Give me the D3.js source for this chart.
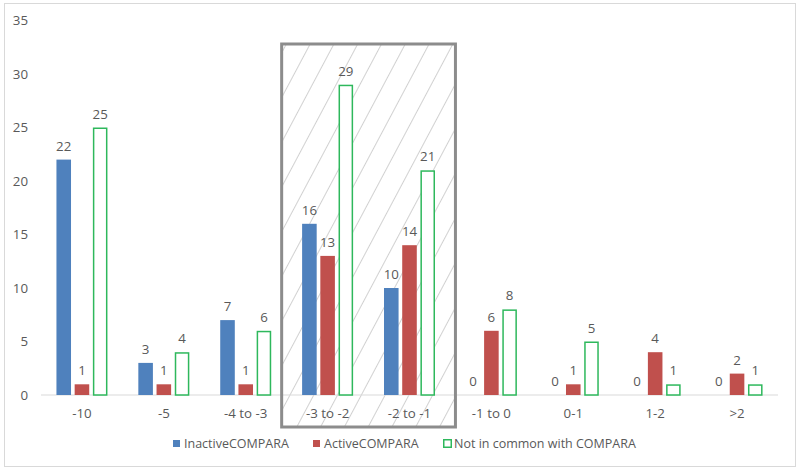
<!DOCTYPE html>
<html><head><meta charset="utf-8">
<script src="https://cdn.jsdelivr.net/npm/d3@7"></script>
<style>body{margin:0;background:#fff}svg{display:block;font-family:"Open Sans",Lato,sans-serif}</style>
</head><body><svg id="c" width="800" height="471"></svg>
<script>
const categories = ["-10","-5","-4 to -3","-3 to -2","-2 to -1","-1 to 0","0-1","1-2",">2"];
const inactive = [22,3,7,16,10,0,0,0,0];
const active = [1,1,1,13,14,6,1,4,2];
const notCommon = [25,4,6,29,21,8,5,1,1];
const seriesNames = ["InactiveCOMPARA","ActiveCOMPARA","Not in common with COMPARA"];
const yTicks = [0,5,10,15,20,25,30,35];
const highlighted = ["-3 to -2","-2 to -1"];

const svg = d3.select("#c");
const txt="#595959";
const FS=13.3;
svg.append("rect").attr("x",4.5).attr("y",3.5).attr("width",791).attr("height",463).attr("fill","#fff").attr("stroke","#d9d9d9");

const x = d3.scaleBand().domain(categories).range([41,778]);
const y = d3.scaleLinear().domain([0,35]).range([395,20.5]);
const sub = d3.scaleBand().domain([0,1,2]).range([0,51]).paddingInner(0.2);

const defs = svg.append("defs");
const pat = defs.append("pattern").attr("id","hatch").attr("patternUnits","userSpaceOnUse")
  .attr("width",21).attr("height",21).attr("patternTransform","rotate(28)");
pat.append("line").attr("x1",0).attr("y1",0).attr("x2",0).attr("y2",21).attr("stroke","#9a9a9a").attr("stroke-width",0.9);
const bx0 = x(highlighted[0]) - 5, bx1 = x(highlighted[1]) + x.bandwidth() + 5;
svg.append("rect").attr("x",bx0).attr("y",44).attr("width",bx1-bx0).attr("height",383)
  .attr("fill","url(#hatch)");

svg.append("line").attr("x1",41).attr("x2",778).attr("y1",y(0)).attr("y2",y(0)).attr("stroke","#d9d9d9");

svg.append("g").selectAll("text").data(yTicks).join("text")
  .attr("x",28).attr("y",d=>y(d)).attr("dy","0.35em").attr("text-anchor","end")
  .attr("font-size",FS).attr("fill",txt).text(d=>d);

svg.append("g").selectAll("text").data(categories).join("text")
  .attr("x",d=>x(d)+x.bandwidth()/2).attr("y",413).attr("dy","0.35em").attr("text-anchor","middle")
  .attr("font-size",FS).attr("fill",txt).text(d=>d);

const series = [inactive,active,notCommon];
const fills = ["#4f81bd","#c0504d","#fff"];
const strokes = ["#4f81bd","#c0504d","#2eb85c"];
series.forEach((vals,si)=>{
  const g = svg.append("g");
  const off = (x.bandwidth()-51)/2;
  g.selectAll("rect").data(categories).join("rect")
    .attr("x",(d)=>x(d)+off+sub(si)+(si==2?0.75:0))
    .attr("y",(d,i)=>y(vals[i])+(si==2?0.75:0))
    .attr("width",sub.bandwidth()-(si==2?1.5:0))
    .attr("height",(d,i)=>Math.max(0,y(0)-y(vals[i])-(si==2?0.75:0)))
    .attr("fill",fills[si]).attr("stroke",si==2?strokes[si]:"none").attr("stroke-width",1.5);
  g.selectAll("text").data(categories).join("text")
    .attr("x",d=>x(d)+off+sub(si)+sub.bandwidth()/2)
    .attr("y",(d,i)=>y(vals[i])-9)
    .attr("text-anchor","middle").attr("font-size",FS).attr("fill",txt)
    .text((d,i)=>vals[i]);
});

svg.append("rect").attr("x",bx0).attr("y",44).attr("width",bx1-bx0).attr("height",383)
  .attr("fill","none").attr("stroke","#8c8c8c").attr("stroke-width",3);

const leg = [{x:173,t:seriesNames[0]},{x:313,t:seriesNames[1]},{x:443,t:seriesNames[2]}];
leg.forEach((l,i)=>{
  if(i<2) svg.append("rect").attr("x",l.x).attr("y",440).attr("width",7).attr("height",7).attr("fill",fills[i]);
  else svg.append("rect").attr("x",l.x+0.75).attr("y",439.75).attr("width",7.5).attr("height",7.5).attr("fill","#fff").attr("stroke",strokes[2]).attr("stroke-width",1.5);
  svg.append("text").attr("x",l.x+11).attr("y",444).attr("dy","0.35em").attr("font-size",12.5).attr("fill",txt).text(l.t);
});
</script></body></html>
